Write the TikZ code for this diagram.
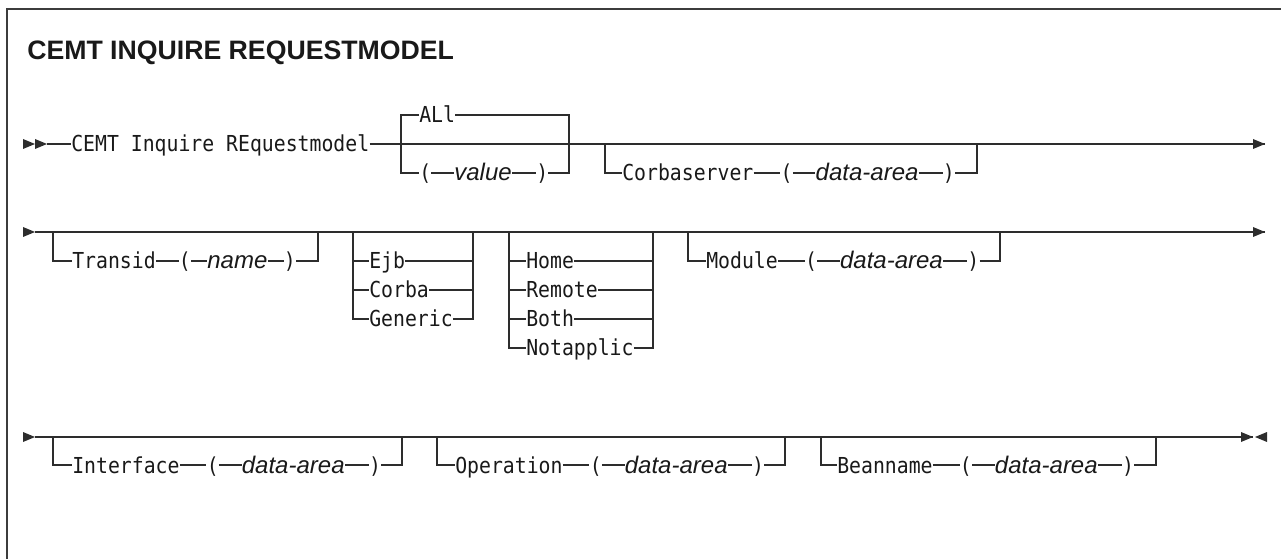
\documentclass[tikz,border=0pt]{standalone}
\usepackage{fontspec}
\usetikzlibrary{positioning,calc}
\definecolor{railc}{RGB}{45,45,45}
\definecolor{textc}{RGB}{25,25,25}
\definecolor{framec}{RGB}{60,60,60}
\newfontfamily\monofam[FakeStretch=0.9]{DejaVu Sans Mono}
\newfontfamily\sansfam{Liberation Sans}
\newcommand{\kwfont}{\monofam\fontsize{16.5}{19}\selectfont}
\newcommand{\varfont}{\sansfam\itshape\fontsize{18}{21}\selectfont}
\newcommand{\ttlfont}{\sansfam\bfseries\fontsize{20}{24}\selectfont}
\newcommand{\tipR}[1]{\fill[railc] ($(#1)+(-12,-5)$) -- (#1) -- ($(#1)+(-12,5)$) -- cycle;}
\newcommand{\tipL}[1]{\fill[railc] ($(#1)+(12,-5)$) -- (#1) -- ($(#1)+(12,5)$) -- cycle;}

\begin{document}
\begin{tikzpicture}[x=0.75pt,y=-0.75pt,
  rail/.style={draw=railc,line width=1pt},
  kw/.style={font=\kwfont,text=textc,inner sep=0pt,text height=12pt,text depth=0pt,anchor=west},
  var/.style={kw,font=\varfont}]
  \useasboundingbox (0,0) rectangle (1281,559);
  \draw[framec,line width=1.5pt] (1281,9) -- (7,9) -- (7,559);
  \node[anchor=base west,inner sep=0pt,font=\ttlfont,text=textc] (title) at (27,60) {CEMT INQUIRE REQUESTMODEL};

  % row 1: command, ALl / (value), Corbaserver
  \coordinate (s1) at (35,144);
  \coordinate (s1b) at (47,144);
  \coordinate (e1) at (1265,144);
  \node[kw] (cmd) at (71,144) {CEMT Inquire REquestmodel};
  \draw[rail] (s1b) -- (cmd) -- (e1);
  \tipR{s1} \tipR{s1b} \tipR{e1}

  \coordinate (g1l) at (401,144);
  \coordinate (g1r) at (569,144);
  \node[kw] (all) at (419,115) {ALl};
  \node[kw] (vlp) at (419,173) {(};
  \node[var,right=17pt of vlp] (val) {value};
  \node[kw,right=18pt of val] (vrp) {)};
  \draw[rail] (all.west) -| (g1l) |- (vlp.west);
  \draw[rail] (all.east) -| (g1r) |- (vrp.east);
  \draw[rail] (vlp) -- (val) -- (vrp);

  \coordinate (g2l) at (605,144);
  \coordinate (g2r) at (977,144);
  \node[kw] (corb) at (622,173) {Corbaserver};
  \node[kw,right=20pt of corb] (clp) {(};
  \node[var,right=17pt of clp] (cda) {data-area};
  \node[kw,right=18pt of cda] (crp) {)};
  \draw[rail] (g2l) |- (corb);
  \draw[rail] (corb) -- (clp) -- (cda) -- (crp);
  \draw[rail] (crp) -| (g2r);

  % row 2: Transid, Ejb/Corba/Generic, Home/.../Notapplic, Module
  \coordinate (s2) at (35,232);
  \coordinate (e2) at (1265,232);
  \draw[rail] (s2) -- (e2);
  \tipR{s2} \tipR{e2}

  \coordinate (g3l) at (53,232);
  \coordinate (g3r) at (318,232);
  \node[kw] (trn) at (72,261) {Transid};
  \node[kw,right=17pt of trn] (tlp) {(};
  \node[var,right=12pt of tlp] (tnm) {name};
  \node[kw,right=12pt of tnm] (trp) {)};
  \draw[rail] (g3l) |- (trn);
  \draw[rail] (trn) -- (tlp) -- (tnm) -- (trp);
  \draw[rail] (trp) -| (g3r);

  \coordinate (g4l) at (353,232);
  \coordinate (g4r) at (473,232);
  \foreach \lab/\nm/\y in {Ejb/ejb/261,Corba/corba/290,Generic/gen/319}{
    \node[kw] (\nm) at (369,\y) {\lab};
    \draw[rail] (g4l) |- (\nm);
    \draw[rail] (\nm) -| (g4r);
  }

  \coordinate (g5l) at (509,232);
  \coordinate (g5r) at (653,232);
  \foreach \lab/\nm/\y in {Home/home/261,Remote/rem/290,Both/both/319,Notapplic/nota/348}{
    \node[kw] (\nm) at (526,\y) {\lab};
    \draw[rail] (g5l) |- (\nm);
    \draw[rail] (\nm) -| (g5r);
  }

  \coordinate (g6l) at (688,232);
  \coordinate (g6r) at (1000,232);
  \node[kw] (mod) at (706,261) {Module};
  \node[kw,right=20pt of mod] (mlp) {(};
  \node[var,right=17pt of mlp] (mda) {data-area};
  \node[kw,right=18pt of mda] (mrp) {)};
  \draw[rail] (g6l) |- (mod);
  \draw[rail] (mod) -- (mlp) -- (mda) -- (mrp);
  \draw[rail] (mrp) -| (g6r);

  % row 3: Interface, Operation, Beanname
  \coordinate (s3) at (35,437);
  \coordinate (e3) at (1253,437);
  \coordinate (e3b) at (1255,437);
  \draw[rail] (s3) -- (e3);
  \tipR{s3} \tipR{e3} \tipL{e3b}
  \draw[rail,line width=2pt] (1162,437) -- (1185,437);

  \coordinate (g7l) at (53,437);
  \coordinate (g7r) at (402,437);
  \node[kw] (intf) at (72,465) {Interface};
  \node[kw,right=20pt of intf] (ilp) {(};
  \node[var,right=17pt of ilp] (ida) {data-area};
  \node[kw,right=18pt of ida] (irp) {)};
  \draw[rail] (g7l) |- (intf);
  \draw[rail] (intf) -- (ilp) -- (ida) -- (irp);
  \draw[rail] (irp) -| (g7r);

  \coordinate (g8l) at (437,437);
  \coordinate (g8r) at (785,437);
  \node[kw] (oper) at (455,465) {Operation};
  \node[kw,right=20pt of oper] (olp) {(};
  \node[var,right=17pt of olp] (oda) {data-area};
  \node[kw,right=18pt of oda] (orp) {)};
  \draw[rail] (g8l) |- (oper);
  \draw[rail] (oper) -- (olp) -- (oda) -- (orp);
  \draw[rail] (orp) -| (g8r);

  \coordinate (g9l) at (821,437);
  \coordinate (g9r) at (1156,437);
  \node[kw] (bean) at (837,465) {Beanname};
  \node[kw,right=20pt of bean] (blp) {(};
  \node[var,right=17pt of blp] (bda) {data-area};
  \node[kw,right=18pt of bda] (brp) {)};
  \draw[rail] (g9l) |- (bean);
  \draw[rail] (bean) -- (blp) -- (bda) -- (brp);
  \draw[rail] (brp) -| (g9r);
\end{tikzpicture}
\end{document}
